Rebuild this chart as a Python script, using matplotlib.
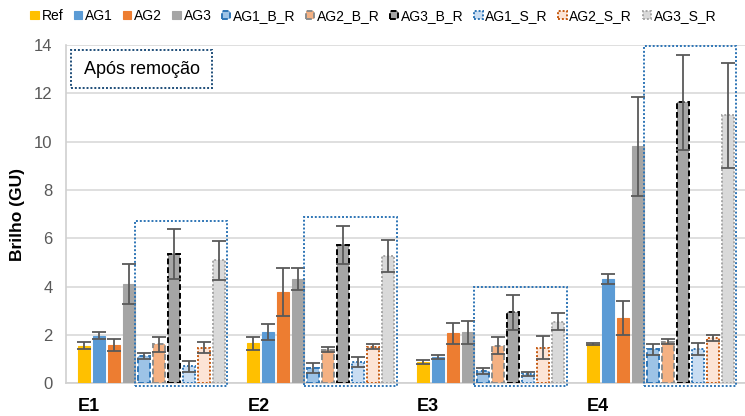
import matplotlib.pyplot as plt
from matplotlib.patches import Rectangle
import numpy as np

plt.rcParams['font.family'] = ['Liberation Sans', 'DejaVu Sans']

# data
groups = ['E1', 'E2', 'E3', 'E4']
series = ['Ref', 'AG1', 'AG2', 'AG3', 'AG1_B_R', 'AG2_B_R', 'AG3_B_R',
          'AG1_S_R', 'AG2_S_R', 'AG3_S_R']

ref      = [1.55, 1.65, 0.86, 1.62]
ag1      = [1.97, 2.12, 1.08, 4.30]
ag2      = [1.57, 3.78, 2.06, 2.70]
ag3      = [4.10, 4.30, 2.10, 9.80]
ag1_b_r  = [1.12, 0.62, 0.50, 1.40]
ag2_b_r  = [1.60, 1.38, 1.55, 1.72]
ag3_b_r  = [5.34, 5.72, 2.93, 11.62]
ag1_s_r  = [0.70, 0.87, 0.38, 1.41]
ag2_s_r  = [1.47, 1.50, 1.46, 1.87]
ag3_s_r  = [5.08, 5.25, 2.55, 11.08]

ref_err     = [0.15, 0.26, 0.08, 0.06]
ag1_err     = [0.15, 0.32, 0.08, 0.20]
ag2_err     = [0.25, 1.00, 0.44, 0.70]
ag3_err     = [0.83, 0.45, 0.48, 2.05]
ag1_b_r_err = [0.14, 0.22, 0.12, 0.24]
ag2_b_r_err = [0.30, 0.10, 0.36, 0.09]
ag3_b_r_err = [1.04, 0.80, 0.72, 1.97]
ag1_s_r_err = [0.23, 0.20, 0.08, 0.25]
ag2_s_r_err = [0.22, 0.10, 0.48, 0.12]
ag3_s_r_err = [0.80, 0.67, 0.35, 2.19]

values = [ref, ag1, ag2, ag3, ag1_b_r, ag2_b_r, ag3_b_r, ag1_s_r, ag2_s_r, ag3_s_r]
errors = [ref_err, ag1_err, ag2_err, ag3_err, ag1_b_r_err, ag2_b_r_err,
          ag3_b_r_err, ag1_s_r_err, ag2_s_r_err, ag3_s_r_err]

# fill, edge, linestyle
styles = [
    ('#FFC000', '#FFC000', '-'),
    ('#5B9BD5', '#5B9BD5', '-'),
    ('#ED7D31', '#ED7D31', '-'),
    ('#A5A5A5', '#A5A5A5', '-'),
    ('#9DC3E6', '#2E75B6', (0, (3, 1.5))),
    ('#F4B183', '#8C8C8C', (0, (3, 1.5))),
    ('#A5A5A5', '#000000', (0, (3, 1.5))),
    ('#C9DDF2', '#2E75B6', (0, (1, 1))),
    ('#FCE4D6', '#C55A11', (0, (1, 1))),
    ('#D9D9D9', '#A6A6A6', (0, (1, 1))),
]

fig = plt.figure(figsize=(7.45, 4.16), dpi=100)
ax = fig.add_axes([0.089, 0.079, 0.911, 0.813])

x = np.arange(len(groups))
slot = 15 / 170
width = 12 / 170
pos = [x + (i - 4.5) * slot for i in range(len(series))]

for i, name in enumerate(series):
    fc, ec, ls = styles[i]
    lw = 0.8 if ls == '-' else 1.4
    ax.bar(pos[i], values[i], width=width, color=fc, edgecolor=ec,
           linestyle=ls, linewidth=lw, label=name, zorder=3)
    ax.errorbar(pos[i], values[i], yerr=errors[i], fmt='none', ecolor='#595959',
                elinewidth=1.3, capsize=5, capthick=1.3, zorder=4)

# dotted boxes around the "after removal" bars
pad = 0.017
for g in range(len(groups)):
    top = max(values[k][g] + errors[k][g] for k in range(4, 10)) + 0.35
    left = pos[4][g] - width / 2 - pad
    right = pos[9][g] + width / 2 + pad
    ax.add_patch(Rectangle((left, -0.13), right - left, top + 0.13, fill=False,
                           edgecolor='#2E75B6', linestyle=(0, (1, 1)), linewidth=1.4,
                           zorder=5, clip_on=False))

# label box
ax.add_patch(Rectangle((-0.475, 12.2), 0.835, 1.57, fill=False, edgecolor='#1F4E79',
                       linestyle=(0, (1, 1)), linewidth=1.4, zorder=5))
ax.text(-0.395, 12.98, 'Após remoção', fontsize=13, va='center', ha='left', zorder=6)

ax.set_xlim(-0.5, 3.5)
ax.set_ylim(0, 14)
ax.set_yticks(range(0, 15, 2))
ax.set_xticks([])
for g, name in enumerate(groups):
    ax.text(pos[0][g] - width / 2, -0.07, name, transform=ax.get_xaxis_transform(),
            fontsize=13, fontweight='bold', ha='left', va='center')

ax.grid(True, axis='y', color='#D9D9D9', lw=1.2, zorder=0)
for side in ['top', 'right']:
    ax.spines[side].set_visible(False)
for side in ['left', 'bottom']:
    ax.spines[side].set_color('#D0D0D0')
    ax.spines[side].set_linewidth(1.2)
ax.tick_params(axis='y', length=0, labelsize=12, labelcolor='#595959', pad=10)
ax.set_ylabel('Brilho (GU)', fontsize=12.5, fontweight='bold', labelpad=6)

ax.legend(ncol=10, loc='lower left', bbox_to_anchor=(-0.053, 1.065), frameon=False,
          fontsize=10, handlelength=0.6, handleheight=0.6, handletextpad=0.2,
          columnspacing=0.75, borderaxespad=0, borderpad=0)

plt.savefig('out.png')
